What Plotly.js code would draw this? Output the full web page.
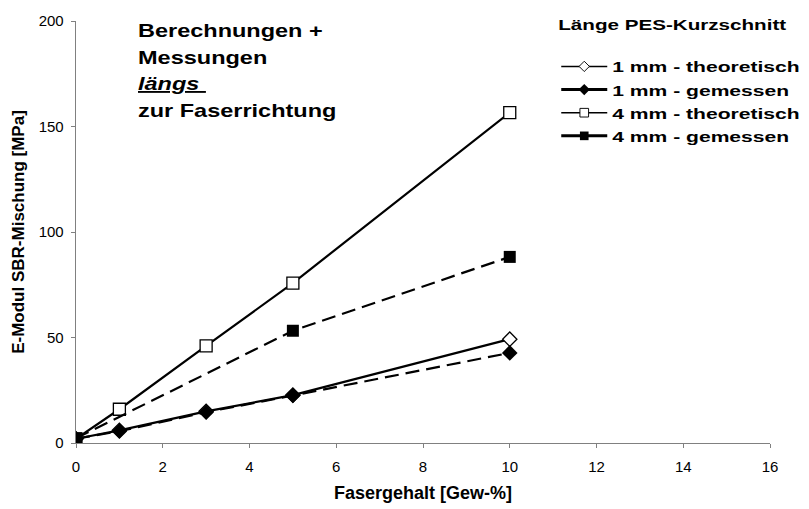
<!DOCTYPE html>
<html><head><meta charset="utf-8">
<script src="https://cdn.plot.ly/plotly-3.0.1.min.js"></script>
<style>html,body{margin:0;padding:0;background:#fff}</style>
</head><body>
<div id="chart" style="width:809px;height:509px"></div>
<script>
var xFull = [0, 1, 3, 5, 10];
var xMeas4 = [0, 5, 10];
var y1Theo = [2, 6, 15, 22.7, 49.2];
var y1Meas = [2, 5.6, 14.6, 22.5, 42.7];
var y4Theo = [2, 16, 46, 75.8, 156.6];
var y4Meas = [2.2, 53.2, 88.2];
var names = ['1 mm - theoretisch', '1 mm - gemessen', '4 mm - theoretisch', '4 mm - gemessen'];
var xTicks = [0, 2, 4, 6, 8, 10, 12, 14, 16];
var yTicks = [0, 50, 100, 150, 200];
var noteLines = ['Berechnungen +', 'Messungen', '<i><u>längs </u></i>', 'zur Faserrichtung'];

var F = 'Liberation Sans, Arial, sans-serif';
var DASH = '14px,7px';
var traces = [
  {x: xFull, y: y1Theo, name: names[0], mode: 'lines+markers',
   line: {color: '#000', width: 2.2},
   marker: {symbol: 'diamond', size: 11, color: '#fff', line: {color: '#000', width: 1.3}}},
  {x: xFull, y: y1Meas, name: names[1], mode: 'lines+markers',
   line: {color: '#000', width: 2.2, dash: DASH},
   marker: {symbol: 'diamond', size: 12, color: '#000'}},
  {x: xFull, y: y4Theo, name: names[2], mode: 'lines+markers',
   line: {color: '#000', width: 2.2},
   marker: {symbol: 'square', size: 12, color: '#fff', line: {color: '#000', width: 1.3}}},
  {x: xMeas4, y: y4Meas, name: names[3], mode: 'lines+markers',
   line: {color: '#000', width: 2.2, dash: DASH},
   marker: {symbol: 'square', size: 12, color: '#000'}}
];
var legendLineWidths = [1.5, 3, 1.5, 3];

var plotTop = 20.5, plotBottom = 443.3, H = 509;
function py(pix) { return (plotBottom - pix) / (plotBottom - plotTop); }
var noteY = [30, 57, 83, 110];

var annotations = noteLines.map(function (t, i) {
  return {
    xref: 'paper', yref: 'paper', x: 0.0865, y: py(noteY[i]), xanchor: 'left', yanchor: 'middle',
    align: 'left', showarrow: false, text: t,
    font: {family: F, size: 18.5, color: '#000', weight: 'bold'}
  };
});

var layout = {
  width: 809, height: 509,
  margin: {l: 76, r: 39, t: plotTop, b: H - plotBottom, autoexpand: false},
  paper_bgcolor: '#fff', plot_bgcolor: '#fff',
  font: {family: F, color: '#000', size: 15},
  showlegend: true,
  legend: {
    x: 0.692, y: py(9), xanchor: 'left', yanchor: 'top',
    bgcolor: 'rgba(0,0,0,0)', borderwidth: 0,
    font: {family: F, size: 15.5, color: '#000', weight: 'bold'},
    title: {text: 'Länge PES-Kurzschnitt<br> ', side: 'top', font: {family: F, size: 15.5, color: '#000', weight: 'bold'}},
    tracegroupgap: 0, itemwidth: 46, traceorder: 'normal'
  },
  xaxis: {
    range: [0, 16], tickvals: xTicks, ticktext: xTicks.map(String),
    showgrid: false, zeroline: false, showline: true, linecolor: '#808080', linewidth: 1.3,
    ticks: 'outside', ticklen: 4, tickcolor: '#808080', ticklabelstandoff: 6,
    tickfont: {family: F, size: 15, color: '#000'},
    title: {text: 'Fasergehalt [Gew-%]', font: {family: F, size: 18, color: '#000', weight: 'bold'}, standoff: 12}
  },
  yaxis: {
    range: [0, 200], tickvals: yTicks, ticktext: yTicks.map(String),
    showgrid: false, zeroline: false, showline: true, linecolor: '#808080', linewidth: 1.3,
    ticks: 'outside', ticklen: 4, tickcolor: '#808080', ticklabelstandoff: 4,
    tickfont: {family: F, size: 15, color: '#000'},
    title: {text: 'E-Modul SBR-Mischung [MPa]', font: {family: F, size: 17, color: '#000', weight: 'bold'}, standoff: 9}
  },
  annotations: annotations
};

function stretch(sel, k) {
  document.querySelectorAll(sel).forEach(function (el) {
    try {
      var w = el.getComputedTextLength();
      if (w > 0) {
        el.setAttribute('textLength', (w * k).toFixed(1));
        el.setAttribute('lengthAdjust', 'spacingAndGlyphs');
      }
    } catch (e) {}
  });
}

Plotly.newPlot('chart', traces, layout, {displayModeBar: false, staticPlot: true}).then(function () {
  document.querySelectorAll('#chart .legend [clip-path]').forEach(function (el) { el.removeAttribute('clip-path'); });
  document.querySelectorAll('#chart .legend').forEach(function (el) { el.removeAttribute('clip-path'); });
  stretch('#chart .legendtext', 1.36);
  stretch('#chart .legendtitletext tspan.line', 1.33);
  stretch('#chart .annotation-text', 1.27);
  document.querySelectorAll('#chart .legend .legendpoints path.scatterpts').forEach(function (p) {
    var t = p.getAttribute('transform') || '';
    p.setAttribute('transform', t + ' scale(0.72)');
  });
  document.querySelectorAll('#chart .legend .traces').forEach(function (g, i) {
    g.querySelectorAll('.legendlines path').forEach(function (p) {
      p.style.strokeDasharray = 'none';
      p.style.strokeWidth = (legendLineWidths[i] || 2) + 'px';
    });
  });
});
</script>
</body></html>
